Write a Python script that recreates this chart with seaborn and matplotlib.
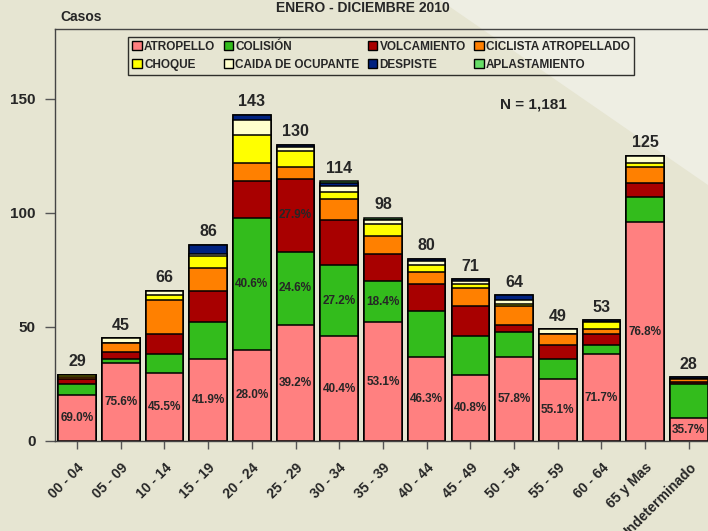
import numpy as np
import pandas as pd
import matplotlib
matplotlib.use('Agg')
from matplotlib import pyplot as plt
from matplotlib.patches import Patch, Polygon
import seaborn as sns

sns.set_style('ticks')
plt.rcParams['font.family'] = ['Liberation Sans', 'DejaVu Sans']
plt.rcParams['font.weight'] = 'bold'

groups = ['00 - 04', '05 - 09', '10 - 14', '15 - 19', '20 - 24', '25 - 29', '30 - 34',
          '35 - 39', '40 - 44', '45 - 49', '50 - 54', '55 - 59', '60 - 64', '65 y Mas',
          'Indeterminado']

atropello = [20, 34, 30, 36, 40, 51, 46, 52, 37, 29, 37, 27, 38, 96, 10]
colision = [5, 2, 8, 16, 58, 32, 31, 18, 20, 17, 11, 9, 4, 11, 15]
volcamiento = [2, 3, 9, 14, 16, 32, 20, 12, 12, 13, 3, 6, 5, 6, 1]
ciclista = [1, 4, 15, 10, 8, 5, 9, 8, 5, 8, 8, 5, 2, 7, 1]
choque = [1, 0, 2, 5, 12, 7, 3, 5, 3, 2, 1, 0, 3, 2, 0]
caida = [0, 2, 2, 1, 7, 2, 3, 2, 2, 1, 2, 2, 0, 3, 0]
despiste = [0, 0, 0, 4, 2, 1, 1, 0, 1, 1, 2, 0, 1, 0, 1]
aplastamiento = [0, 0, 0, 0, 0, 0, 1, 1, 0, 0, 0, 0, 0, 0, 0]

categories = ['ATROPELLO', 'COLISIÓN', 'VOLCAMIENTO', 'CICLISTA ATROPELLADO',
              'CHOQUE', 'CAIDA DE OCUPANTE', 'DESPISTE', 'APLASTAMIENTO']
colors = ['#FF8080', '#33BC1C', '#A80000', '#FF8000',
          '#FFFF00', '#FFFFCC', '#002280', '#66DD66']

# percentage labels written on some segments: (group, category, text)
pct_labels = [
    ('00 - 04', 'ATROPELLO', '69.0%'), ('05 - 09', 'ATROPELLO', '75.6%'),
    ('10 - 14', 'ATROPELLO', '45.5%'), ('15 - 19', 'ATROPELLO', '41.9%'),
    ('20 - 24', 'ATROPELLO', '28.0%'), ('20 - 24', 'COLISIÓN', '40.6%'),
    ('25 - 29', 'ATROPELLO', '39.2%'), ('25 - 29', 'COLISIÓN', '24.6%'),
    ('25 - 29', 'VOLCAMIENTO', '27.9%'), ('30 - 34', 'ATROPELLO', '40.4%'),
    ('30 - 34', 'COLISIÓN', '27.2%'), ('35 - 39', 'ATROPELLO', '53.1%'),
    ('35 - 39', 'COLISIÓN', '18.4%'), ('40 - 44', 'ATROPELLO', '46.3%'),
    ('45 - 49', 'ATROPELLO', '40.8%'), ('50 - 54', 'ATROPELLO', '57.8%'),
    ('55 - 59', 'ATROPELLO', '55.1%'), ('60 - 64', 'ATROPELLO', '71.7%'),
    ('65 y Mas', 'ATROPELLO', '76.8%'), ('Indeterminado', 'ATROPELLO', '35.7%'),
]

df = pd.DataFrame(dict(zip(categories, [atropello, colision, volcamiento, ciclista,
                                        choque, caida, despiste, aplastamiento])),
                  index=groups)
cum = df.cumsum(axis=1)
cum['grupo'] = groups
totals = df.sum(axis=1)

bg = '#E6E5D2'
f = plt.figure(figsize=(7.08, 5.31), dpi=100, facecolor=bg)
# lighter diagonal band of the background
f.patches.append(Polygon([(440 / 708, 1), (1, 1 - 185 / 531), (1, 1)], closed=True,
                         transform=f.transFigure, facecolor='#EEEEE3', edgecolor='none',
                         zorder=-1))

ax = f.add_axes([55 / 708, 1 - 441 / 531, 1 - 55 / 708 + 0.01, (441 - 29) / 531])
ax.set_facecolor('none')

# stacked bars: draw cumulative heights from the top layer down
for cat, col in reversed(list(zip(categories, colors))):
    sns.barplot(data=cum, x='grupo', y=cat, order=groups, color=col, saturation=1,
                width=0.86, edgecolor='black', linewidth=1.1, errorbar=None, ax=ax)

for i, g in enumerate(groups):
    ax.annotate(f'{totals[g]}', (i, totals[g]), xytext=(0, 4), textcoords='offset points',
                ha='center', va='bottom', fontsize=11.5, fontweight='bold')

for g, cat, txt in pct_labels:
    i = groups.index(g)
    top = cum.loc[g, cat]
    y = top - df.loc[g, cat] / 2
    ax.text(i, y, txt, ha='center', va='center', fontsize=8.5, fontweight='bold')

ax.text(10.45, 147.4, f'N = {totals.sum():,}', ha='center', va='center',
        fontsize=11, fontweight='bold')

ax.set_xlim(-0.504, 14.6)
ax.set_ylim(0, 180.7)
ax.set_xlabel('')
ax.set_ylabel('')
ax.set_yticks([0, 50, 100, 150])
ax.set_xticks(range(len(groups)))
ax.set_xticklabels(groups, rotation=45, ha='right', va='top', rotation_mode='anchor',
                   fontsize=10, fontweight='bold')
for lab in ax.get_yticklabels():
    lab.set_fontweight('bold')
    lab.set_fontsize(11)
ax.tick_params(axis='x', length=6, width=1, color='#555555', pad=8)
ax.tick_params(axis='y', length=7, width=1, color='#555555', pad=7)
for side in ['left', 'top', 'bottom']:
    ax.spines[side].set_visible(True)
    ax.spines[side].set_color('#444444')
    ax.spines[side].set_linewidth(1)
ax.spines['right'].set_visible(False)

# legend filled column-wise, so reorder to read row by row like the original
order = [0, 4, 1, 5, 2, 6, 3, 7]
handles = [Patch(facecolor=colors[k], edgecolor='black', linewidth=1, label=categories[k])
           for k in order]
leg = f.legend(handles=handles, ncol=4, loc='center', bbox_to_anchor=(381 / 708, 1 - 56 / 531),
               prop={'size': 8.5, 'weight': 'bold'}, frameon=True, fancybox=False,
               handlelength=0.8, handleheight=0.8, handletextpad=0.2, columnspacing=0.7,
               labelspacing=0.5, borderpad=0.35, borderaxespad=0)
leg.get_frame().set_edgecolor('black')
leg.get_frame().set_facecolor('none')
leg.get_frame().set_linewidth(1)

f.text(363 / 708, 1 - 8 / 531, 'ENERO - DICIEMBRE 2010', ha='center', va='center',
       fontsize=10, fontweight='bold')
f.text(60 / 708, 1 - 17 / 531, 'Casos', ha='left', va='center', fontsize=10,
       fontweight='bold')

plt.savefig('out.png', dpi=100, facecolor=bg)
